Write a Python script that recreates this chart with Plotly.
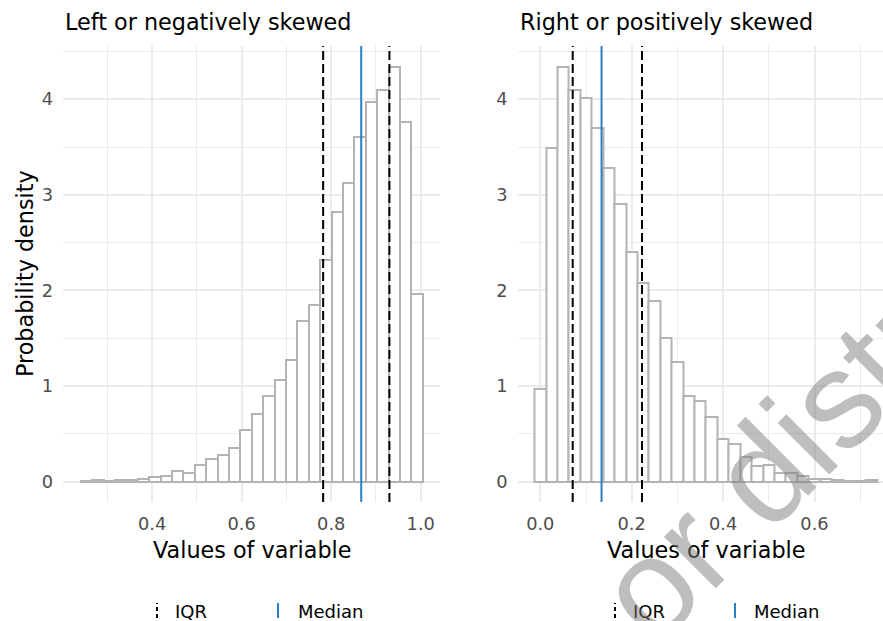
import numpy as np
import plotly.graph_objects as go

W, H = 883, 621

# ---------------- data ----------------
left_bin_lo, left_bin_hi = 0.2405, 1.0045
left_density = [0.010, 0.014, 0.010, 0.014, 0.021, 0.031, 0.052, 0.056, 0.115, 0.094,
                0.178, 0.241, 0.282, 0.349, 0.541, 0.708, 0.896, 1.064, 1.276, 1.681,
                1.848, 2.316, 2.818, 3.121, 3.609, 3.969, 4.098, 4.335, 3.766, 1.963]
left_q1, left_median, left_q3 = 0.782, 0.867, 0.930

right_bin_lo, right_bin_hi = -0.0123, 0.7374
right_density = [0.973, 3.494, 4.338, 4.098, 4.017, 3.700, 3.282, 2.908, 2.403, 2.075,
                 1.890, 1.507, 1.252, 0.896, 0.840, 0.680, 0.443, 0.394, 0.262, 0.164,
                 0.174, 0.094, 0.094, 0.059, 0.031, 0.024, 0.014, 0.010, 0.010, 0.017]
right_q1, right_median, right_q3 = 0.0709, 0.134, 0.2225

titles = ["Left or negatively skewed", "Right or positively skewed"]
x_title = "Values of variable"
y_title = "Probability density"
left_xticks = [0.4, 0.6, 0.8, 1.0]
left_xminor = [0.3, 0.5, 0.7, 0.9]
right_xticks = [0.0, 0.2, 0.4, 0.6]
right_xminor = [0.1, 0.3, 0.5, 0.7]
y_ticks = [0, 1, 2, 3, 4]
y_minor = [0.5, 1.5, 2.5, 3.5, 4.5]
legend_labels = ["IQR", "Median"]
watermark = "Do not copy, post, or distribute"

# ---------------- helpers ----------------
def px_x(p):
    return p / W

def px_y(p):
    return 1 - p / H

GRID = "#ebebeb"
BAR_LINE = "#b3b3b3"
BLUE = "#2a7fc9"
TICK_C = "#4d4d4d"
FONT = "DejaVu Sans, Arial, sans-serif"
WM_FONT = "Liberation Sans, Arial, sans-serif"

def centers(lo, hi, n):
    edges = np.linspace(lo, hi, n + 1)
    return (edges[:-1] + edges[1:]) / 2, (hi - lo) / n

fig = go.Figure()

lc, lw = centers(left_bin_lo, left_bin_hi, len(left_density))
rc, rw = centers(right_bin_lo, right_bin_hi, len(right_density))

fig.add_trace(go.Bar(x=lc, y=left_density, width=lw, xaxis="x", yaxis="y",
                     marker=dict(color="white", line=dict(color=BAR_LINE, width=2)),
                     showlegend=False, hoverinfo="skip"))
fig.add_trace(go.Bar(x=rc, y=right_density, width=rw, xaxis="x2", yaxis="y2",
                     marker=dict(color="white", line=dict(color=BAR_LINE, width=2)),
                     showlegend=False, hoverinfo="skip"))

shapes = []
for xref, yref, q1, med, q3 in [("x", "y domain", left_q1, left_median, left_q3),
                                ("x2", "y2 domain", right_q1, right_median, right_q3)]:
    for q in (q1, q3):
        shapes.append(dict(type="line", xref=xref, yref=yref, x0=q, x1=q, y0=0, y1=1,
                           line=dict(color="black", width=2, dash="9px,4px"), layer="above"))
    shapes.append(dict(type="line", xref=xref, yref=yref, x0=med, x1=med, y0=0, y1=1,
                       line=dict(color=BLUE, width=2), layer="above"))

# legend keys (drawn below each panel)
for key_x, med_x in [(157, 278), (615, 735)]:
    shapes.append(dict(type="line", xref="paper", yref="paper",
                       x0=px_x(key_x), x1=px_x(key_x), y0=px_y(618), y1=px_y(603),
                       line=dict(color="black", width=2, dash="4px,3px")))
    shapes.append(dict(type="line", xref="paper", yref="paper",
                       x0=px_x(med_x), x1=px_x(med_x), y0=px_y(618), y1=px_y(603),
                       line=dict(color=BLUE, width=2)))

annotations = []
# panel titles
for xp, t in [(63, titles[0]), (518, titles[1])]:
    annotations.append(dict(text=t, xref="paper", yref="paper", x=px_x(xp), y=px_y(22),
                            xanchor="left", yanchor="middle", showarrow=False,
                            font=dict(size=22.3, color="black", family=FONT)))
# x titles
for xp in (251.5, 706):
    annotations.append(dict(text=x_title, xref="paper", yref="paper", x=px_x(xp), y=px_y(550),
                            xanchor="center", yanchor="middle", showarrow=False,
                            font=dict(size=22.3, color="black", family=FONT)))
# y title
annotations.append(dict(text=y_title, xref="paper", yref="paper", x=px_x(25), y=px_y(274),
                        xanchor="center", yanchor="middle", textangle=-90, showarrow=False,
                        font=dict(size=22.3, color="black", family=FONT)))
# legend labels
for xp, lab in [(173, legend_labels[0]), (296, legend_labels[1]),
                (631, legend_labels[0]), (752, legend_labels[1])]:
    annotations.append(dict(text=lab, xref="paper", yref="paper", x=px_x(xp), y=px_y(611),
                            xanchor="left", yanchor="middle", showarrow=False,
                            font=dict(size=18, color="black", family=FONT)))
# watermark
annotations.append(dict(text=watermark, xref="paper", yref="paper",
                        x=px_x(472), y=px_y(764),
                        xanchor="center", yanchor="middle", textangle=-45, showarrow=False,
                        font=dict(size=138, color="rgba(125,125,125,0.5)", family=WM_FONT)))

ydom = [px_y(502), px_y(46)]
axis_common = dict(showline=False, zeroline=False, ticks="", gridcolor=GRID, gridwidth=1.6,
                   tickfont=dict(size=17.8, color=TICK_C, family=FONT))

def minor(vals):
    return dict(showgrid=True, gridcolor=GRID, gridwidth=0.8, tickvals=vals)

fig.update_layout(
    width=W, height=H, margin=dict(l=0, r=0, t=0, b=0),
    paper_bgcolor="white", plot_bgcolor="white",
    bargap=0, showlegend=False,
    xaxis=dict(domain=[px_x(63), px_x(440)], range=[0.2009, 1.043], tickvals=left_xticks,
               ticktext=[f"{v:.1f}" for v in left_xticks], ticklabelstandoff=9,
               minor=minor(left_xminor), **axis_common),
    yaxis=dict(domain=ydom, range=[-0.213, 4.557], tickvals=y_ticks, ticklabelstandoff=9,
               minor=minor(y_minor), **axis_common),
    xaxis2=dict(domain=[px_x(517.5), 1.0], range=[-0.0499, 0.7499], anchor="y2",
                tickvals=right_xticks, ticktext=[f"{v:.1f}" for v in right_xticks],
                ticklabelstandoff=9, minor=minor(right_xminor), **axis_common),
    yaxis2=dict(domain=ydom, range=[-0.213, 4.557], anchor="x2", tickvals=y_ticks,
                ticklabelstandoff=9, minor=minor(y_minor), **axis_common),
    shapes=shapes, annotations=annotations,
)

fig.write_html("out.html")
